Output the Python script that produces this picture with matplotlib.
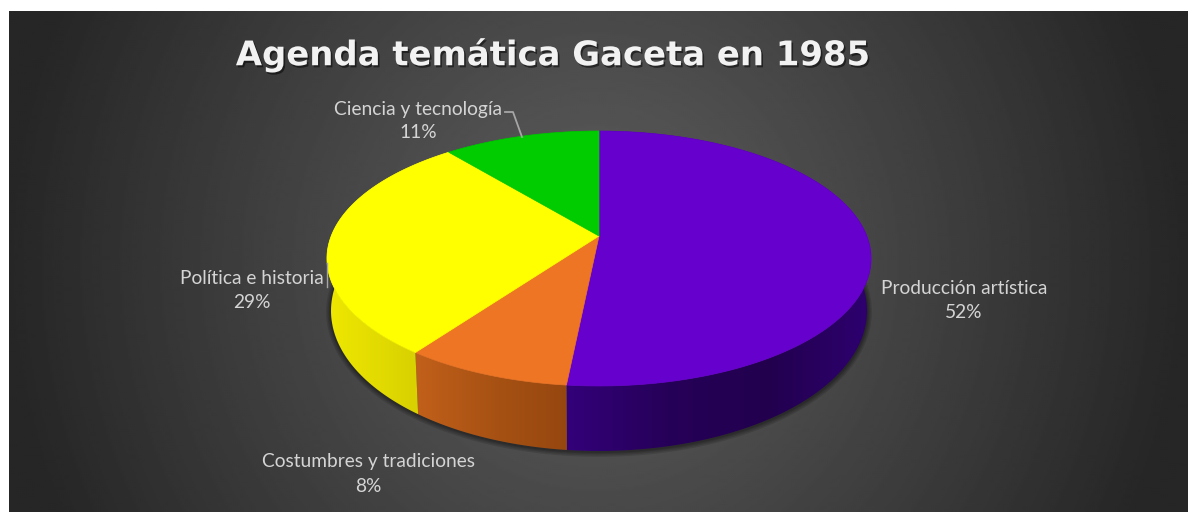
import numpy as np
import matplotlib
matplotlib.use("Agg")
import matplotlib.pyplot as plt
import matplotlib.patheffects as pe
from matplotlib.colors import LinearSegmentedColormap
from matplotlib.patches import Polygon

# datos
categorias = ["Producción artística", "Costumbres y tradiciones", "Política e historia", "Ciencia y tecnología"]
valores = [51.6, 8.4, 29.0, 11.0]
etiquetas = ["52%", "8%", "29%", "11%"]

colores = ["#6600cc", "#ee7524", "#ffff00", "#00cc00"]
lados = [
    ["#33007a", "#260058", "#22004e", "#2e0070"],
    ["#c2601a", "#a85214", "#96470f"],
    ["#eee800", "#e0d800", "#d0c800"],
    ["#006000", "#006000"],
]
pos_etiquetas = [(964, 301), (368, 474), (252, 291), (418, 121)]

W, H = 1191, 512
fig = plt.figure(figsize=(W / 100, H / 100), dpi=100, facecolor="white")
ax = fig.add_axes([0, 0, 1, 1])
ax.set_xlim(0, W)
ax.set_ylim(H, 0)
ax.axis("off")

# fondo
px0, px1, py0, py1 = 9, 1188, 11, 512
xx, yy = np.meshgrid(np.linspace(px0, px1, 590), np.linspace(py0, py1, 250))
r = np.sqrt(((xx - 596) / 590) ** 2 + ((yy - 262) / 620) ** 2)
r = np.clip(r, 0, 1)
gris = 0.365 - (0.365 - 0.15) * r ** 1.1
ax.imshow(gris, cmap="gray", vmin=0, vmax=1, extent=[px0, px1, py1, py0], aspect="auto",
          interpolation="bilinear", zorder=0)
ax.set_xlim(0, W)
ax.set_ylim(H, 0)


def proyecta(ang, cy=236.0, sx=1.0, sy=1.0):
    # circulo unidad visto en perspectiva
    x, y = np.cos(ang), np.sin(ang)
    w = 1 + 0.1765 * y
    return 599 + sx * 267.8 * x / w, cy - sy * 123.5 * y / w


limites = 90 - np.concatenate([[0], np.cumsum(valores)]) * 3.6

# sombra bajo el disco
t = np.radians(np.linspace(0, 360, 400))
bx, by = proyecta(t, cy=286, sx=0.985, sy=1.1)
for lw in [7, 5, 3, 1.5]:
    ax.plot(bx, by + 1, color="black", alpha=0.12, lw=lw, zorder=1, solid_capstyle="round")

# paredes laterales
for i in range(len(valores)):
    a = np.radians(np.linspace(limites[i], limites[i + 1], 200))
    x1, y1 = proyecta(a)
    x2, y2 = proyecta(a, cy=286, sx=0.985, sy=1.1)
    verts = np.r_[np.c_[x1, y1], np.c_[x2, y2][::-1]]
    poly = Polygon(verts, closed=True, facecolor="none", edgecolor="none", transform=ax.transData)
    ax.add_patch(poly)
    cm = LinearSegmentedColormap.from_list("lado", lados[i])
    x0, xf = verts[:, 0].min(), verts[:, 0].max()
    im = ax.imshow(np.linspace(0, 1, 256)[None, :], cmap=cm, aspect="auto", zorder=2,
                   extent=[x0, xf, verts[:, 1].max(), verts[:, 1].min()])
    im.set_clip_path(poly)
ax.set_xlim(0, W)
ax.set_ylim(H, 0)

# cara superior
for i in range(len(valores)):
    a = np.radians(np.linspace(limites[i], limites[i + 1], 200))
    x1, y1 = proyecta(a)
    ax.fill(np.r_[599, x1], np.r_[236, y1], color=colores[i], lw=0.5, zorder=3)

# etiquetas
for nombre, pct, (ex, ey) in zip(categorias, etiquetas, pos_etiquetas):
    ax.text(ex, ey, nombre + "\n" + pct, family="Lato", fontsize=13.8, color="#d4d4d4",
            ha="center", va="center", linespacing=1.5, zorder=5)

# lineas guia
ax.plot([505, 513, 522], [112, 112, 137], color="#a6a6a6", lw=1.3, zorder=4)
ax.plot([327, 327], [263, 287], color="#a6a6a6", lw=1.0, zorder=4)

ax.text(553, 55, "Agenda temática Gaceta en 1985", family="DejaVu Sans", weight="bold", fontsize=24.4,
        color="#f2f2f2", ha="center", va="center", zorder=6,
        path_effects=[pe.withSimplePatchShadow(offset=(1.2, -1.5), shadow_rgbFace="black", alpha=0.5)])

fig.savefig("out.png", dpi=100)
